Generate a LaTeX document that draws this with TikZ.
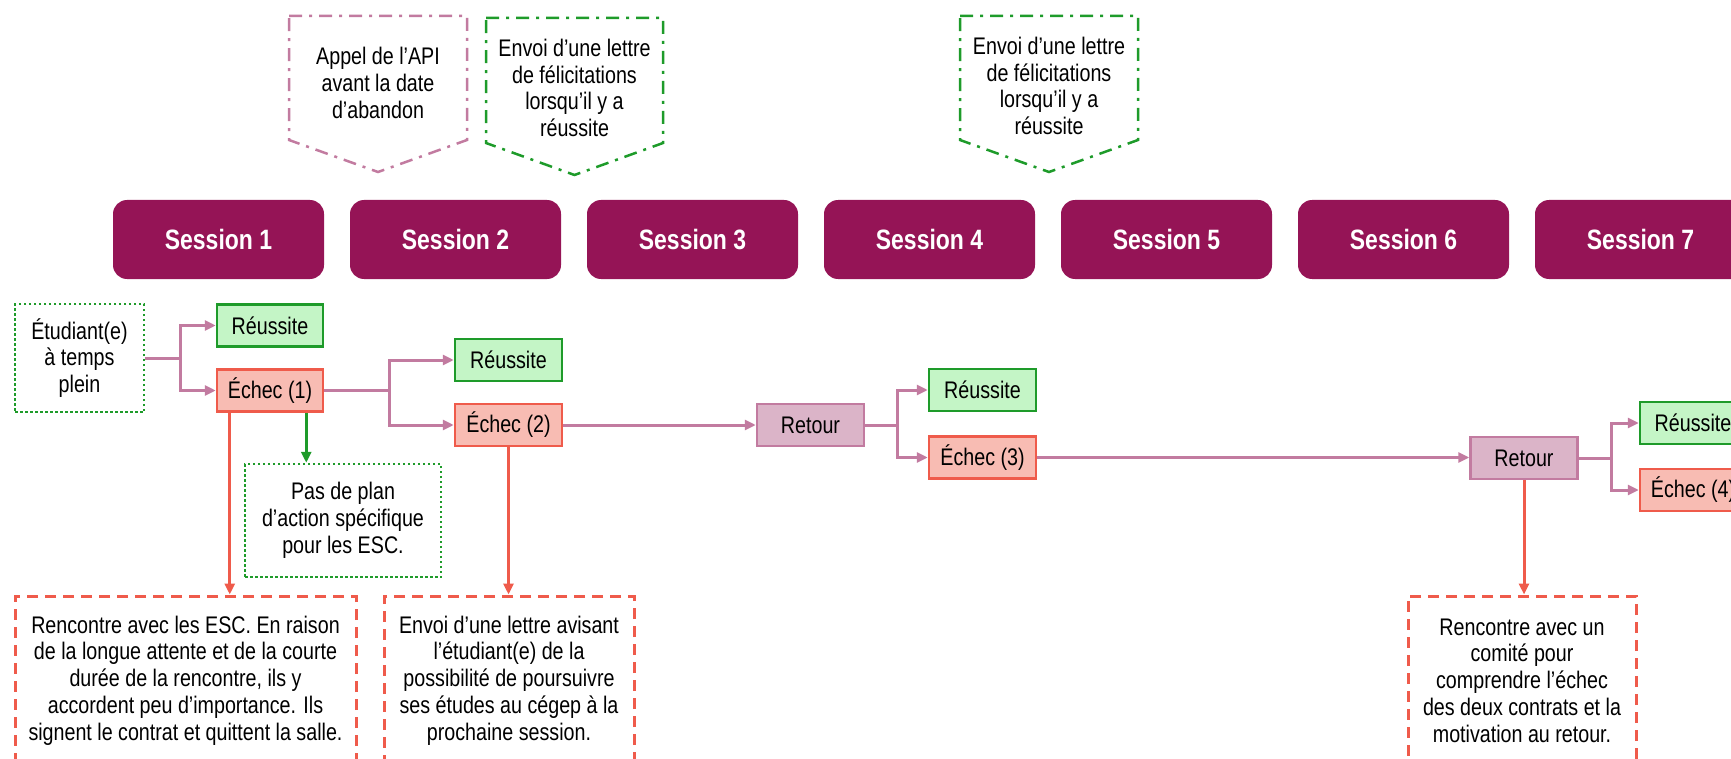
\documentclass[tikz,border=0pt]{standalone}
\usepackage{fontspec}
\setmainfont[FakeStretch=0.82]{Liberation Sans}
\usetikzlibrary{arrows.meta,calc}

\definecolor{sess}{HTML}{951456}
\definecolor{mauve}{HTML}{C27BA0}
\definecolor{retfill}{HTML}{DBB4C8}
\definecolor{okfill}{HTML}{C4F5C6}
\definecolor{okline}{HTML}{1E9B2A}
\definecolor{kofill}{HTML}{F8BCB3}
\definecolor{koline}{HTML}{EF5B4B}

\begin{document}
\begin{tikzpicture}[x=1pt,y=-1pt,
  every node/.style={font=\fontsize{24}{26.8}\selectfont, align=center, inner sep=0pt},
  sessbox/.style={fill=sess, rounded corners=14pt, minimum width=211pt, minimum height=79pt, text=white, font=\fontsize{28}{31}\selectfont\bfseries},
  smallbox/.style={draw, line width=2.5pt, minimum width=106pt, minimum height=42pt},
  okbox/.style={smallbox, draw=okline, fill=okfill},
  kobox/.style={smallbox, draw=koline, fill=kofill},
  retbox/.style={smallbox, draw=mauve, fill=retfill, minimum width=107pt},
  dotbox/.style={draw=okline, line width=2.5pt, dash pattern=on 2.5pt off 2.5pt},
  dashbox/.style={draw=koline, line width=3pt, dash pattern=on 11pt off 7pt, minimum height=169pt},
  callout/.style={line width=2.5pt, dash pattern=on 13pt off 7pt on 3pt off 7pt},
  link/.style={draw=mauve, line width=3pt},
  redlink/.style={draw=koline, line width=3pt},
  greenlink/.style={draw=okline, line width=3pt},
  arr/.style={-{Triangle[length=11pt,width=10pt]}},
]
\useasboundingbox (0,0) rectangle (1731,759);
\clip (0,0) rectangle (1731,759);

% Sessions
\foreach \k in {1,...,7}{
  \node[sessbox] (s\k) at ({218.5+237*(\k-1)},239.5) {Session \k};
}

% Callouts
\draw[callout, draw=mauve] (289,16) -- (467,16) -- (467,140) -- (378,172) -- (289,140) -- cycle;
\node (api) at (378,83) {Appel de l’API\\avant la date\\d’abandon};
\draw[callout, draw=okline] (486,18) -- (663,18) -- (663,143) -- (574.5,175) -- (486,143) -- cycle;
\node (fel1) at (574.5,88) {Envoi d’une lettre\\de félicitations\\lorsqu’il y a\\réussite};
\draw[callout, draw=okline] (960,16) -- (1138,16) -- (1138,140) -- (1049,172) -- (960,140) -- cycle;
\node (fel2) at (1049,86) {Envoi d’une lettre\\de félicitations\\lorsqu’il y a\\réussite};

% Flow boxes
\node[dotbox, minimum width=129pt, minimum height=108pt] (etu) at (79.5,358) {Étudiant(e)\\à temps\\plein};
\node[okbox] (r1) at (270,325.5) {Réussite};
\node[kobox] (e1) at (270,390.5) {Échec (1)};
\node[okbox, minimum width=107pt] (r2) at (508.5,360) {Réussite};
\node[kobox, minimum width=107pt] (e2) at (508.5,425) {Échec (2)};
\node[retbox] (ret1) at (810.5,425) {Retour};
\node[okbox, minimum width=107pt] (r3) at (982.5,390) {Réussite};
\node[kobox, minimum width=107pt] (e3) at (982.5,457.5) {Échec (3)};
\node[retbox] (ret2) at (1524,458) {Retour};
\node[okbox] (r4) at (1693,423) {Réussite};
\node[kobox] (e4) at (1693,490) {Échec (4)};

\node[dotbox, minimum width=196pt, minimum height=113pt] (pas) at (343,520.5) {Pas de plan\\d’action spécifique\\pour les ESC.};

\node[dashbox, minimum width=341pt] (esc1) at (185.5,680.5) {Rencontre avec les ESC. En raison\\de la longue attente et de la courte\\durée de la rencontre, ils y\\accordent peu d’importance. Ils\\signent le contrat et quittent la salle.};
\node[dashbox, minimum width=250pt] (esc2) at (509,680.5) {Envoi d’une lettre avisant\\l’étudiant(e) de la\\possibilité de poursuivre\\ses études au cégep à la\\prochaine session.};
\node[dashbox, minimum width=228pt] (esc3) at (1522,680.5) {Rencontre avec un\\comité pour\\comprendre l’échec\\des deux contrats et la\\motivation au retour.};

% Junctions
\coordinate (j1) at ($(etu.east)+(35,0)$);
\coordinate (j2) at ($(e1.east)+(65,0)$);
\coordinate (j3) at ($(ret1.east)+(32,0)$);
\coordinate (j4) at ($(ret2.east)+(33,0)$);

\draw[link] (etu.east) -- (j1);
\draw[link,arr] (j1) |- (r1.west);
\draw[link,arr] (j1) |- (e1.west);

\draw[link] (e1.east) -- (j2);
\draw[link,arr] (j2) |- (r2.west);
\draw[link,arr] (j2) |- (e2.west);

\draw[link,arr] (e2.east) -- (ret1.west);

\draw[link] (ret1.east) -- (j3);
\draw[link,arr] (j3) |- (r3.west);
\draw[link,arr] (j3) |- (e3.west);

\draw[link,arr] (e3.east) -- (e3.east -| ret2.west);

\draw[link] (ret2.east) -- (j4);
\draw[link,arr] (j4) |- (r4.west);
\draw[link,arr] (j4) |- (e4.west);

% Vertical arrows
\draw[redlink,arr] ([xshift=14pt]e1.south west) -- ([xshift=14pt]e1.south west |- esc1.north);
\draw[greenlink,arr] ([xshift=-18pt]e1.south east) -- ([xshift=-18pt]e1.south east |- pas.north);
\draw[redlink,arr] (e2.south) -- (e2.south |- esc2.north);
\draw[redlink,arr] (ret2.south) -- (ret2.south |- esc3.north);
\end{tikzpicture}
\end{document}
